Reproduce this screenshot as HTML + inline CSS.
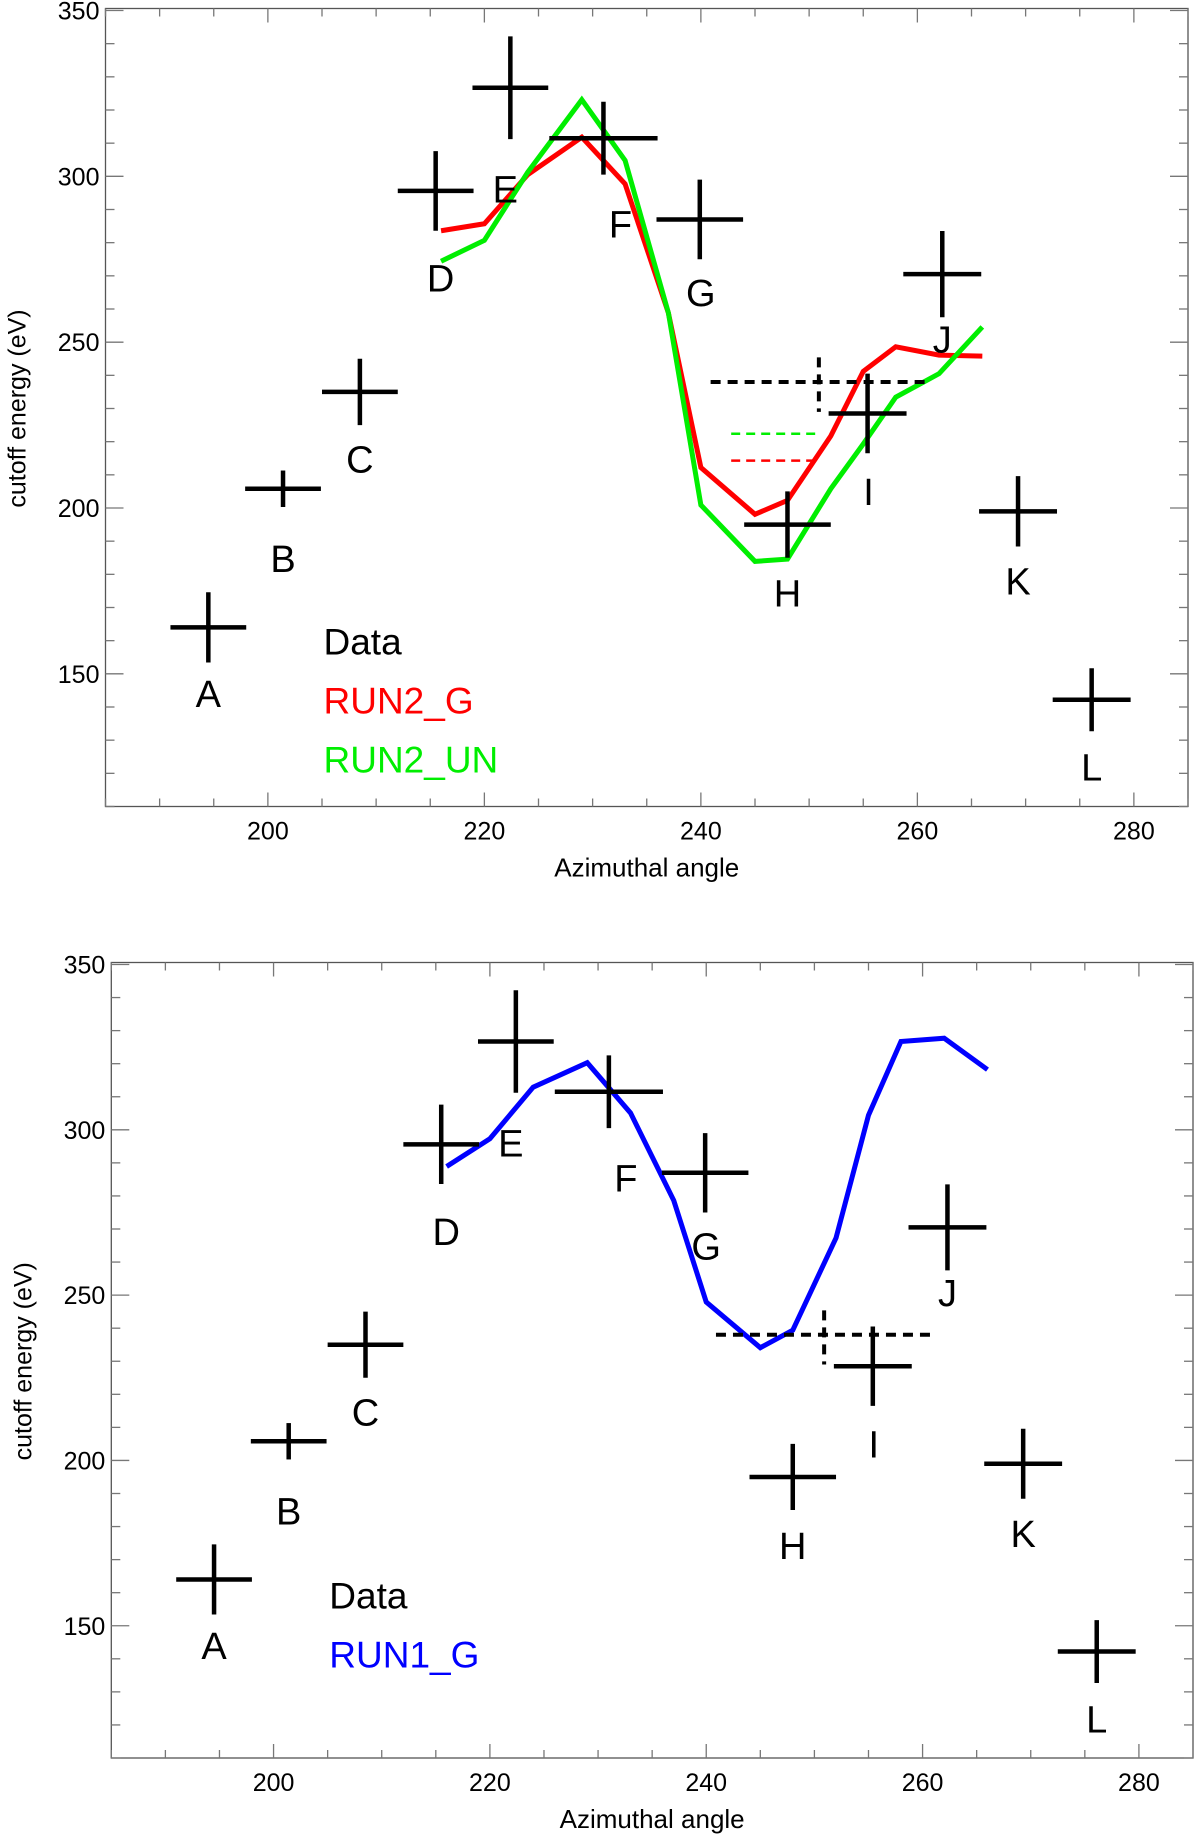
<!DOCTYPE html>
<html><head><meta charset="utf-8"><style>
html,body{margin:0;padding:0;background:#fff;}
svg{display:block;font-family:"Liberation Sans",sans-serif;}
</style></head><body>
<svg id="chart" width="1200" height="1838" viewBox="0 0 1200 1838" xmlns="http://www.w3.org/2000/svg"></svg>
<script>
const pointNames = ["A","B","C","D","E","F","G","H","I","J","K","L"];
const dataX = [194.5,201.4,208.5,215.5,222.4,231.0,239.9,248.0,255.4,262.3,269.3,276.1];
const dataY = [164,205.8,235,295.6,326.7,311.5,287,195,228.5,270.5,199,142.2];
const dataXErr = [3.5,3.5,3.5,3.5,3.5,5.0,4.0,4.0,3.6,3.6,3.6,3.6];
const dataYErr = [10.6,5.5,10,12,15.5,11,12,10,12,13,10.6,9.5];
const labelDx = [0,0,0,5,-5,17,1,0,1,0,0,0];
const labelDy = [56,59,57,74,86,73,62,58,66,55,59,57];
const modelX = [216,220,224,229,233,237,240,245,248,252,255,258,262,266];
const run2G = [283.6,285.7,300.5,311.8,297.7,258.8,212.2,198.1,202.3,221.7,241.2,248.6,246.1,245.8];
const run2UN = [274.4,280.7,301.2,323.1,304.8,258.8,200.9,183.9,184.6,205.8,219.3,233.4,240.5,254.6];
const run1G = [288.9,297.3,312.9,320.3,305.1,278.6,247.9,234.1,239.4,267.3,304.4,326.7,327.7,318.2];
const meanLineY = [238];
const meanLineX = [240.9,261];
const meanVert = [250.9,245.4,229];
const run2UNMean = [222.4];
const run2GMean = [214.3];
const meanShortX = [242.8,251];
const xTicks = [200,220,240,260,280];
const yTicks = [150,200,250,300,350];

const NS="http://www.w3.org/2000/svg";
const svg=document.getElementById('chart');
function mk(tag,attrs,parent){const e=document.createElementNS(NS,tag);for(const k in attrs)e.setAttribute(k,attrs[k]);(parent||svg).appendChild(e);return e;}

function panel(id,L,R,T,B,models,legend){
  const g=mk('g',{});
  
  
  const px=v=>L+(v-185)/100*(R-L);
  const py=v=>T+(350-v)/240*(B-T);
  const frame=mk('rect',{x:L,y:T-2,width:R-L,height:B-T+2,fill:'none',stroke:'#555','stroke-width':1.3},g);
  
  
  for(let v=185;v<=285;v+=5){
    const major=v%20===0;const len=major?14:8;const x=px(v);
    mk('line',{x1:x,y1:B,x2:x,y2:B-len,stroke:'#777','stroke-width':1.3},g);
    mk('line',{x1:x,y1:T-2,x2:x,y2:T-2+len,stroke:'#777','stroke-width':1.3},g);
  }
  for(let v=110;v<=350;v+=10){
    const major=v%50===0;const len=major?18:9;const y=py(v);
    mk('line',{x1:L,y1:y,x2:L+len,y2:y,stroke:'#777','stroke-width':1.3},g);
    mk('line',{x1:R,y1:y,x2:R-len,y2:y,stroke:'#777','stroke-width':1.3},g);
  }
  xTicks.forEach(v=>{const t=mk('text',{x:px(v),y:B+33,'font-size':25,'text-anchor':'middle'},g);t.textContent=v;
    
    });
  yTicks.forEach(v=>{const t=mk('text',{x:L-6,y:py(v)+9,'font-size':25,'text-anchor':'end'},g);t.textContent=v;
    
    });
  const xt=mk('text',{x:(L+R)/2,y:B+70,'font-size':26,'text-anchor':'middle'},g);xt.textContent='Azimuthal angle';
  
  
  const cy=(T+B)/2;const cx=L-80;
  const yt=mk('text',{x:cx,y:cy,'font-size':25,'text-anchor':'middle',transform:`rotate(-90 ${cx} ${cy})`},g);yt.textContent='cutoff energy (eV)';
  
  
  models.forEach(m=>{
    const pts=modelX.map((x,i)=>px(x)+','+py(m.vals[i])).join(' ');
    const pl=mk('polyline',{points:pts,fill:'none',stroke:m.color,'stroke-width':5,'stroke-linejoin':'miter'},g);
    
    
    if(m.mean){const d=mk('line',{x1:px(meanShortX[0]),y1:py(m.mean[0]),x2:px(meanShortX[1]),y2:py(m.mean[0]),stroke:m.color,'stroke-width':2.5,'stroke-dasharray':'9,6'},g);
      
      }
  });
  const mh=mk('line',{x1:px(meanLineX[0]),y1:py(meanLineY[0]),x2:px(meanLineX[1]),y2:py(meanLineY[0]),stroke:'#000','stroke-width':4,'stroke-dasharray':'10,7'},g);
  
  
  const mv=mk('line',{x1:px(meanVert[0]),y1:py(meanVert[1]),x2:px(meanVert[0]),y2:py(meanVert[2]),stroke:'#000','stroke-width':4,'stroke-dasharray':'10,7'},g);
  
  
  dataX.forEach((x,i)=>{
    const cx=px(x),cy=py(dataY[i]);
    const pg=mk('g',{},g);
    
    
    mk('line',{x1:px(x-dataXErr[i]),y1:cy,x2:px(x+dataXErr[i]),y2:cy,stroke:'#000','stroke-width':4.5},pg);
    mk('line',{x1:cx,y1:py(dataY[i]+dataYErr[i]),x2:cx,y2:py(dataY[i]-dataYErr[i]),stroke:'#000','stroke-width':4.5},pg);
    const t=mk('text',{x:cx+labelDx[i],y:cy+labelDy[i]*1.172+14,'font-size':38,'text-anchor':'middle'},pg);
    t.textContent=pointNames[i];
  });
  legend.forEach((l,i)=>{
    const t=mk('text',{x:L+218,y:T+(i*59)+644,'font-size':37,fill:l.color},g);t.textContent=l.text;
    
    
  });
}
panel('top-panel',105.5,1188,10.5,806.5,
  [{name:'run2-g-line',vals:run2G,color:'#f00',mean:run2GMean},{name:'run2-un-line',vals:run2UN,color:'#0e0',mean:run2UNMean}],
  [{text:'Data',color:'#000'},{text:'RUN2_G',color:'#f00'},{text:'RUN2_UN',color:'#0e0'}]);
panel('bottom-panel',111.3,1193,964.5,1758,
  [{name:'run1-g-line',vals:run1G,color:'#00f'}],
  [{text:'Data',color:'#000'},{text:'RUN1_G',color:'#00f'}]);
</script>
</body></html>
